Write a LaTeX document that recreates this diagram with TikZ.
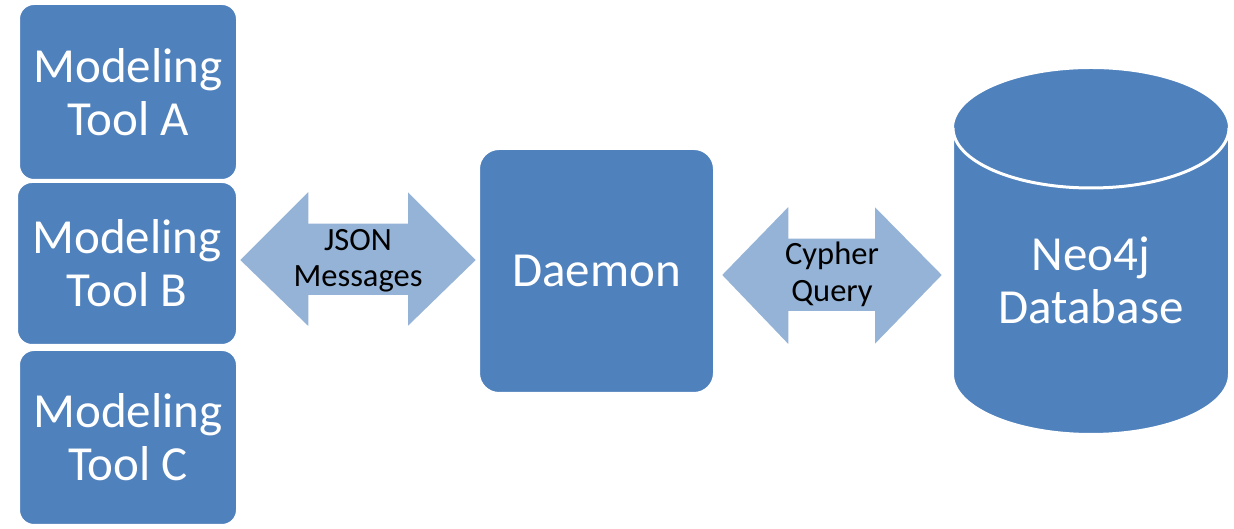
\documentclass[tikz,border=0pt]{standalone}
\usepackage{fontspec}
\setmainfont{Carlito}
\definecolor{boxblue}{HTML}{4F81BD}
\definecolor{arrowblue}{HTML}{95B3D7}
\begin{document}
\begin{tikzpicture}[x=1pt,y=1pt,
  toolbox/.style={rectangle, rounded corners=15pt, fill=boxblue, draw=white, line width=2pt, text=white, align=center, font=\fontsize{49}{53}\selectfont, inner sep=0pt},
  blockarrow/.style={fill=arrowblue, draw=white, line width=1.5pt},
  arrowtext/.style={align=center, font=\fontsize{32.5}{36.5}\selectfont, text=black, inner sep=0pt},
  dbtext/.style={align=center, font=\fontsize{49}{53}\selectfont, text=white, inner sep=0pt}]
\useasboundingbox (0,0) rectangle (1234,529);
% modeling tools
\node[toolbox, minimum width=218pt, minimum height=176pt] (A) at (128,437) {Modeling\\Tool A};
\node[toolbox, minimum width=220pt, minimum height=163pt] (B) at (127,265.5) {Modeling\\Tool B};
\node[toolbox, minimum width=218pt, minimum height=175pt] (C) at (128,91.5) {Modeling\\Tool C};
% daemon
\node[toolbox, rounded corners=20pt, minimum width=235pt, minimum height=244pt] (D) at (596.5,258) {Daemon};
% database cylinder
\coordinate (cylTL) at (953,401);
\coordinate (cylBL) at (953,155);
\coordinate (cylTR) at (1229,401);
\filldraw[fill=boxblue, draw=white, line width=2pt] (cylTL) -- (cylBL)
  arc[start angle=180, end angle=360, x radius=138pt, y radius=60pt] -- (cylTR)
  arc[start angle=0, end angle=180, x radius=138pt, y radius=60pt] -- cycle;
\draw[white, line width=3pt] (cylTL) arc[start angle=180, end angle=360, x radius=138pt, y radius=60pt];
\node[dbtext] (db) at (1091,248.5) {Neo4j\\Database};
% JSON arrow
\coordinate (j1) at (239,269);
\coordinate (j2) at (477,269);
\draw[blockarrow] (j1) -- (309,339) -- (309,306) -- (407,306) -- (407,339) -- (j2)
  -- (407,201) -- (407,233) -- (309,233) -- (309,201) -- cycle;
\node[arrowtext] (json) at (358,268) {JSON\\Messages};
% Cypher arrow
\coordinate (c1) at (721,254);
\coordinate (c2) at (943,254);
\draw[blockarrow] (c1) -- (789,324) -- (789,291) -- (874,291) -- (874,324) -- (c2)
  -- (874,183) -- (874,217) -- (789,217) -- (789,183) -- cycle;
\node[arrowtext] (cypher) at (832,254.5) {Cypher\\Query};
\end{tikzpicture}
\end{document}
